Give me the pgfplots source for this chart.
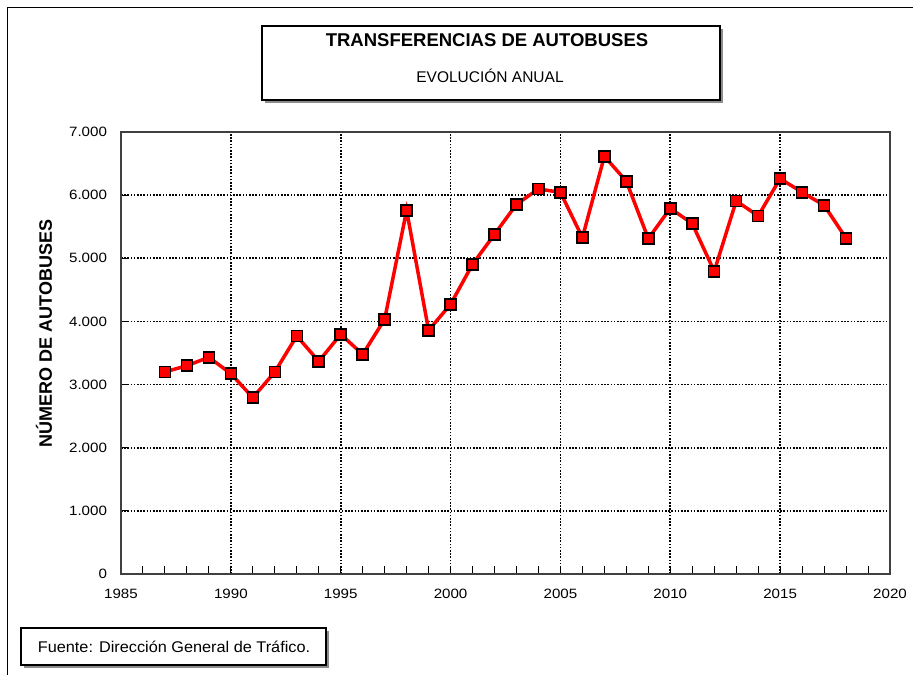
\documentclass[border=0pt]{standalone}
\usepackage{pgfplots}
\pgfplotsset{compat=1.18}
\usepackage{fontspec}
\setmainfont{Liberation Sans}
\begin{document}
\begin{tikzpicture}
\begin{scope}[x=1pt,y=1pt]
\path[use as bounding box] (0,0) rectangle (913,-675);
\draw[line width=1.5pt] (7.3,-675) -- (7.3,-7.3) -- (913,-7.3);
% title box
\fill[black!45] (265,-29) rectangle (723,-103);
\filldraw[fill=white,draw=black,line width=1.3pt] (262,-26) rectangle (720,-100);
\node[font=\bfseries\fontsize{18.5}{21}\selectfont] at (487,-40) {TRANSFERENCIAS DE AUTOBUSES};
\node[font=\fontsize{15.5}{18}\selectfont] at (490,-76) {EVOLUCIÓN ANUAL};
% footer box
\fill[black!45] (24,-631) rectangle (329,-668);
\filldraw[fill=white,draw=black,line width=1.3pt] (21,-628) rectangle (326,-665);
\node[font=\fontsize{15.5}{18}\selectfont, xscale=1.05] at (174,-647) {Fuente: Dirección General de Tráfico.};
% y label
\node[rotate=90,font=\bfseries\fontsize{18}{21}\selectfont] at (44,-333.5) {NÚMERO DE AUTOBUSES};
\end{scope}
\begin{axis}[
  at={(121pt,-574pt)}, anchor=south west, scale only axis,
  width=769pt, height=442pt,
  xmin=1985, xmax=2020, ymin=0, ymax=7000,
  xtick={1985,1990,...,2020}, ytick={0,1000,...,7000},
  minor x tick num=4,
  xtick pos=bottom, ytick pos=left,
  xmajorgrids, ymajorgrids,
  major grid style={black, line width=1.6pt, dash pattern=on 1.6pt off 1.6pt},
  axis line style={draw=black!75, line width=1.4pt},
  tick style={draw=black, line width=1pt},
  tick align=inside,
  major tick length=8pt, minor tick length=8pt,
  scaled y ticks=false,
  /pgf/number format/assume math mode=true,
  x tick label style={/pgf/number format/1000 sep={}, yshift=-12pt},
  y tick label style={/pgf/number format/1000 sep={.}, xshift=-9pt},
  tick label style={font=\fontsize{13.5}{16}\selectfont, xscale=1.12},
  clip=false,
]
\addplot[red, line width=3.5pt, mark=square*, mark size=5.5pt,
  mark options={fill=red, draw=black, line width=1.5pt, solid}]
  coordinates {
  (1987,3200) (1988,3300) (1989,3432) (1990,3173) (1991,2793)
  (1992,3200) (1993,3770) (1994,3368) (1995,3796) (1996,3479)
  (1997,4034) (1998,5760) (1999,3860) (2000,4271) (2001,4905)
  (2002,5380) (2003,5855) (2004,6098) (2005,6045) (2006,5327)
  (2007,6616) (2008,6220) (2009,5311) (2010,5792) (2011,5549)
  (2012,4794) (2013,5908) (2014,5671) (2015,6262) (2016,6045)
  (2017,5840) (2018,5317)
  };
\end{axis}
\end{tikzpicture}
\end{document}
